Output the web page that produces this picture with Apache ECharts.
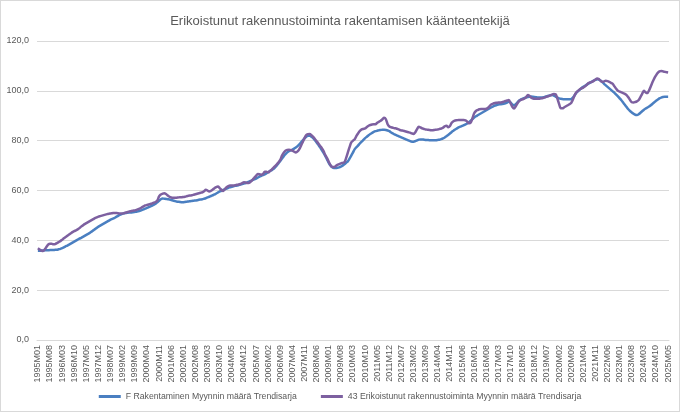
<!DOCTYPE html>
<html>
<head>
<meta charset="utf-8">
<script src="https://cdn.jsdelivr.net/npm/echarts@6/dist/echarts.min.js"></script>
<style>
html,body{margin:0;padding:0;background:#fff;}
#c{width:680px;height:412px;box-sizing:border-box;border:1px solid #d9d9d9;}
</style>
</head>
<body>
<div id="c"></div>
<script>
// Category labels: monthly 1995M01 .. 2025M05
const startYear = 1995, endYear = 2025, endMonth = 5;
const categories = [];
for (let y = startYear; y <= endYear; y++) {
  for (let m = 1; m <= 12; m++) {
    if (y === endYear && m > endMonth) break;
    categories.push(y + 'M' + (m < 10 ? '0' + m : m));
  }
}

const seriesNames = [
  'F Rakentaminen Myynnin määrä Trendisarja',
  '43 Erikoistunut rakennustoiminta Myynnin määrä Trendisarja'
];

const rakentaminen = [
  35.8,35.8,35.9,35.9,36.0,36.0,36.0,36.1,36.1,36.1,36.2,36.2,
  36.4,36.6,36.9,37.2,37.6,37.9,38.3,38.7,39.1,39.5,39.9,40.3,
  40.7,41.0,41.4,41.8,42.2,42.6,43.0,43.5,44.0,44.5,45.0,45.5,
  45.9,46.3,46.7,47.1,47.5,47.9,48.3,48.6,48.9,49.3,49.7,50.1,
  50.4,50.7,50.9,51.0,51.1,51.2,51.2,51.3,51.4,51.5,51.7,51.9,
  52.1,52.4,52.7,53.0,53.3,53.6,53.9,54.3,54.7,55.3,55.9,56.5,
  56.8,56.7,56.6,56.5,56.4,56.2,56.0,55.8,55.6,55.5,55.4,55.3,
  55.3,55.4,55.5,55.6,55.7,55.8,55.9,56.0,56.1,56.3,56.4,56.5,
  56.7,56.9,57.2,57.5,57.8,58.1,58.4,58.8,59.2,59.6,59.9,60.2,
  60.5,60.8,61.1,61.3,61.5,61.7,61.9,62.0,62.2,62.4,62.6,62.8,
  63.0,63.3,63.6,63.9,64.2,64.5,64.8,65.2,65.6,65.9,66.2,66.5,
  66.9,67.3,67.8,68.2,68.6,69.3,70.1,71.0,71.8,72.8,73.8,74.6,
  75.3,75.8,76.1,76.4,76.8,77.3,77.8,78.5,79.3,80.1,80.9,81.6,
  82.0,82.0,81.6,81.0,80.2,79.3,78.3,77.3,76.2,75.1,73.9,72.5,
  71.1,70.0,69.3,69.0,69.0,69.1,69.3,69.6,70.0,70.5,71.1,71.7,
  72.8,74.0,75.3,76.6,77.4,78.1,78.9,79.6,80.3,81.0,81.6,82.2,
  82.7,83.1,83.5,83.8,84.0,84.2,84.3,84.4,84.4,84.3,84.1,83.8,
  83.3,82.9,82.5,82.2,81.9,81.6,81.3,81.0,80.7,80.4,80.1,79.8,
  79.6,79.6,79.8,80.1,80.4,80.5,80.5,80.4,80.3,80.3,80.2,80.2,
  80.2,80.2,80.2,80.3,80.4,80.6,80.9,81.3,81.8,82.3,82.9,83.5,
  84.0,84.5,84.9,85.3,85.6,85.9,86.2,86.5,86.9,87.4,88.0,88.7,
  89.3,89.8,90.2,90.6,91.0,91.4,91.8,92.2,92.6,93.0,93.4,93.8,
  94.1,94.3,94.5,94.6,94.7,94.8,95.0,95.3,95.6,95.3,94.6,94.2,
  94.6,95.4,96.1,96.6,96.9,97.1,97.3,97.5,97.6,97.7,97.6,97.5,
  97.4,97.3,97.3,97.3,97.4,97.6,97.8,98.0,98.2,98.3,98.1,97.7,
  97.3,97.0,96.8,96.7,96.6,96.6,96.6,96.6,96.7,97.3,98.2,99.2,
  99.9,100.5,101.1,101.6,102.0,102.5,102.9,103.3,103.7,104.1,104.4,104.6,
  104.5,104.1,103.5,102.8,102.2,101.6,101.0,100.4,99.8,99.2,98.5,97.8,
  97.0,96.2,95.3,94.4,93.5,92.6,91.9,91.3,90.8,90.4,90.3,90.6,
  91.2,91.8,92.4,92.9,93.3,93.7,94.2,94.8,95.4,96.0,96.5,97.0,
  97.3,97.5,97.6,97.6,97.6
];

const erikoistunut = [
  36.8,36.3,35.9,35.7,36.4,37.4,38.3,38.6,38.6,38.4,38.5,38.9,
  39.3,39.7,40.2,40.8,41.3,41.8,42.3,42.8,43.3,43.7,44.0,44.4,
  44.9,45.5,46.0,46.5,46.9,47.3,47.7,48.1,48.5,48.9,49.2,49.5,
  49.7,49.9,50.1,50.3,50.5,50.7,50.8,50.9,51.0,51.0,50.9,50.8,
  50.8,50.8,51.0,51.2,51.4,51.6,51.8,51.9,52.0,52.2,52.5,52.8,
  53.2,53.6,54.0,54.2,54.4,54.6,54.8,55.1,55.4,56.0,57.6,58.4,
  58.7,58.9,58.6,58.0,57.5,57.2,57.1,57.1,57.1,57.2,57.3,57.3,
  57.4,57.5,57.7,57.9,58.0,58.1,58.3,58.5,58.7,58.9,59.1,59.3,
  59.7,60.3,60.0,59.6,59.9,60.4,60.9,61.4,61.6,61.0,60.2,59.8,
  60.6,61.3,61.8,62.0,62.0,62.0,62.1,62.3,62.4,62.6,63.0,63.3,
  63.2,63.0,63.1,63.6,64.3,65.1,65.9,66.6,66.5,66.3,66.6,67.5,
  67.5,67.3,67.8,68.4,69.1,69.8,70.5,71.3,72.3,74.0,75.2,76.0,
  76.3,76.4,76.2,76.0,75.6,75.3,75.7,76.6,78.0,79.5,81.0,82.2,
  82.6,82.7,82.2,81.5,80.7,79.8,78.9,77.9,77.0,75.8,74.2,73.0,
  71.5,70.2,69.4,69.4,69.8,70.3,70.6,70.9,71.1,71.3,73.0,75.2,
  77.4,79.3,80.0,80.6,81.9,83.0,83.9,84.5,84.7,84.9,85.5,86.0,
  86.3,86.5,86.6,86.6,87.2,87.6,88.0,88.6,89.2,88.6,86.6,85.7,
  85.4,85.2,85.0,84.9,84.6,84.3,84.1,84.0,83.8,83.6,83.4,83.2,
  82.9,82.7,83.4,84.6,85.6,85.3,84.9,84.7,84.5,84.4,84.3,84.2,
  84.2,84.3,84.4,84.5,84.7,84.9,85.2,85.8,86.0,85.4,85.9,87.2,
  87.8,88.1,88.2,88.3,88.3,88.3,88.3,88.1,87.6,87.0,87.3,89.0,
  91.0,91.9,92.3,92.6,92.7,92.7,92.7,92.8,93.2,94.0,94.6,94.9,
  95.1,95.2,95.3,95.3,95.4,95.6,95.9,96.1,96.3,95.0,93.6,92.9,
  93.8,95.0,96.0,96.4,96.6,96.9,97.5,98.3,97.9,97.2,96.9,96.8,
  96.8,96.8,96.9,97.0,97.2,97.4,97.7,97.9,98.2,98.5,98.7,98.6,
  97.0,94.8,93.0,93.0,93.4,93.8,94.2,94.6,95.1,96.5,98.2,99.4,
  100.0,100.6,101.0,101.3,101.8,102.4,103.1,103.4,103.6,104.0,104.5,105.0,
  104.7,104.0,103.6,103.8,104.0,103.9,103.6,103.2,102.8,101.8,100.8,100.0,
  99.7,99.4,99.1,98.8,98.3,97.4,96.3,95.4,95.3,95.5,95.8,96.3,
  97.5,98.8,100.0,99.4,99.1,100.2,101.8,103.5,105.0,106.2,107.2,107.8,
  108.0,107.8,107.6,107.5,107.4
];

const yMin = 0, yMax = 120, yStep = 20;

const FONT = "'Liberation Sans', sans-serif";
const chart = echarts.init(document.getElementById('c'), null, {renderer: 'canvas'});
chart.setOption({
  animation: false,
  backgroundColor: '#ffffff',
  title: {
    text: 'Erikoistunut rakennustoiminta rakentamisen käänteentekijä',
    left: 'center',
    top: 9,
    textStyle: {fontFamily: FONT, fontSize: 13, fontWeight: 'normal', color: '#595959'}
  },
  legend: {
    bottom: 5,
    left: 'center',
    itemGap: 24,
    itemWidth: 22,
    itemHeight: 3,
    icon: 'rect',
    textStyle: {fontFamily: FONT, fontSize: 8.7, color: '#595959'},
    data: seriesNames
  },
  grid: {left: 36, right: 10, top: 40, bottom: 71, containLabel: false},
  xAxis: {
    type: 'category',
    data: categories,
    boundaryGap: true,
    axisLine: {show: true, lineStyle: {color: '#d9d9d9'}},
    axisTick: {show: false},
    axisLabel: {
      interval: 6,
      rotate: 90,
      fontFamily: FONT,
      fontSize: 9,
      color: '#595959',
      margin: 5
    },
    splitLine: {show: false}
  },
  yAxis: {
    type: 'value',
    min: yMin,
    max: yMax,
    interval: yStep,
    axisLine: {show: false},
    axisTick: {show: false},
    axisLabel: {
      fontFamily: FONT,
      fontSize: 9,
      color: '#595959',
      margin: 8,
      formatter: v => v.toFixed(1).replace('.', ',')
    },
    splitLine: {lineStyle: {color: '#d9d9d9'}}
  },
  series: [
    {
      name: seriesNames[0],
      type: 'line',
      data: rakentaminen,
      showSymbol: false,
      symbol: 'none',
      smooth: 0.3,
      lineStyle: {width: 2.5, color: '#4a7fc1'},
      itemStyle: {color: '#4a7fc1'}
    },
    {
      name: seriesNames[1],
      type: 'line',
      data: erikoistunut,
      showSymbol: false,
      symbol: 'none',
      smooth: 0.3,
      lineStyle: {width: 2.5, color: '#7d60a0'},
      itemStyle: {color: '#7d60a0'}
    }
  ]
});
</script>
</body>
</html>
